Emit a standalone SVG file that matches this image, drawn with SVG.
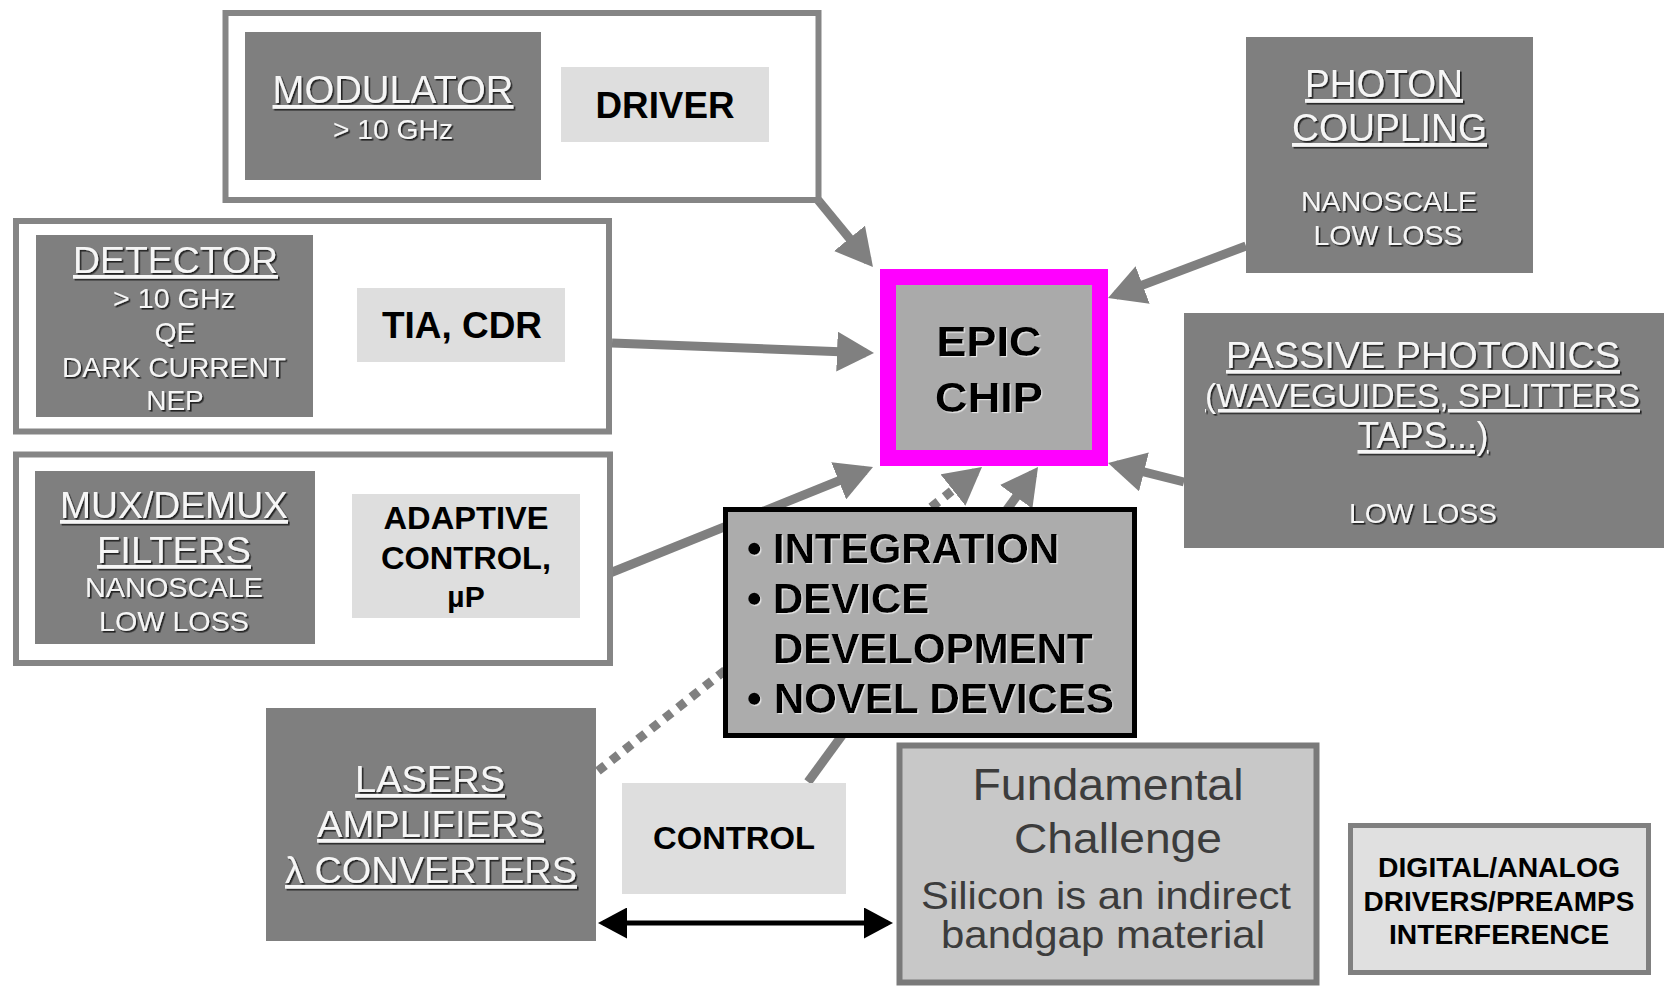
<svg xmlns="http://www.w3.org/2000/svg" width="1667" height="988" viewBox="0 0 1667 988">
<defs>
<style>
.frame{fill:#ffffff;stroke:#858585;stroke-width:6}
.dark{fill:#7f7f7f}
.light{fill:#dedede}
.wt{font-family:"Liberation Sans",Arial,sans-serif;fill:#f6f6f6;text-anchor:middle;filter:url(#sh)}
.ul{text-decoration:underline}
.bt{font-family:"Liberation Sans",Arial,sans-serif;font-weight:bold;fill:#000;text-anchor:middle}
.conn{stroke:#808080;stroke-width:9;fill:none;marker-end:url(#ag)}
</style>
<filter id="sh" x="-10%" y="-20%" width="120%" height="150%">
<feDropShadow dx="1.6" dy="1.6" stdDeviation="0.5" flood-color="#1e1e1e" flood-opacity="0.95"/>
</filter>
<filter id="lsh" x="-10%" y="-20%" width="120%" height="150%">
<feDropShadow dx="1.2" dy="1.2" stdDeviation="0.5" flood-color="#e8e8e8" flood-opacity="0.9"/>
</filter>
<marker id="ag" markerUnits="userSpaceOnUse" markerWidth="37" markerHeight="40" viewBox="0 0 37 40" refX="29" refY="20" orient="auto">
<path d="M0,0 L37,20 L0,40 z" fill="#808080"/>
</marker>
<marker id="ab" markerUnits="userSpaceOnUse" markerWidth="29" markerHeight="31" viewBox="0 0 29 31" refX="24" refY="15.5" orient="auto-start-reverse">
<path d="M0,0 L29,15.5 L0,31 z" fill="#000"/>
</marker>
</defs>
<rect x="0" y="0" width="1667" height="988" fill="#ffffff"/>

<g id="connectors">
<line class="conn" x1="818" y1="200" x2="867.9" y2="260.8"/>
<line class="conn" x1="612" y1="343" x2="866" y2="352.7"/>
<line class="conn" x1="610" y1="573" x2="865.6" y2="470"/>
<line class="conn" x1="598" y1="771" x2="975.7" y2="472" stroke-dasharray="9 8"/>
<line class="conn" x1="808" y1="782" x2="1033.3" y2="473.5"/>
<line class="conn" x1="1246" y1="246" x2="1115.5" y2="295.2"/>
<line class="conn" x1="1184" y1="482" x2="1115.8" y2="464.9"/>
<line x1="603" y1="923" x2="888" y2="923" stroke="#000" stroke-width="5" marker-start="url(#ab)" marker-end="url(#ab)"/>
</g>

<g id="modulator">
<rect class="frame" x="225.5" y="13" width="593" height="187"/>
<rect class="dark" x="245" y="32" width="296" height="148"/>
<text class="wt ul" x="393" y="103" font-size="38" textLength="241" lengthAdjust="spacingAndGlyphs">MODULATOR</text>
<text class="wt" x="393" y="139" font-size="28" textLength="120" lengthAdjust="spacingAndGlyphs">&gt; 10 GHz</text>
<rect class="light" x="561" y="67" width="208" height="75"/>
<text class="bt" x="665" y="118" font-size="36" textLength="139" lengthAdjust="spacingAndGlyphs">DRIVER</text>
</g>

<g id="detector">
<rect class="frame" x="16" y="221" width="593" height="210.5"/>
<rect class="dark" x="36" y="235" width="277" height="182"/>
<text class="wt ul" x="175.5" y="273" font-size="37" textLength="205" lengthAdjust="spacingAndGlyphs">DETECTOR</text>
<text class="wt" x="174" y="308" font-size="28" textLength="122" lengthAdjust="spacingAndGlyphs">&gt; 10 GHz</text>
<text class="wt" x="175" y="342" font-size="28">QE</text>
<text class="wt" x="174" y="377" font-size="28" textLength="224" lengthAdjust="spacingAndGlyphs">DARK CURRENT</text>
<text class="wt" x="175" y="410" font-size="28">NEP</text>
<rect class="light" x="357" y="288" width="208" height="74"/>
<text class="bt" x="462" y="338" font-size="36" textLength="160" lengthAdjust="spacingAndGlyphs">TIA, CDR</text>
</g>

<g id="mux">
<rect class="frame" x="16" y="454.5" width="594" height="208.5"/>
<rect class="dark" x="35" y="471" width="280" height="173"/>
<text class="wt ul" x="174" y="518" font-size="37" textLength="228" lengthAdjust="spacingAndGlyphs">MUX/DEMUX</text>
<text class="wt ul" x="174" y="563" font-size="37" textLength="154" lengthAdjust="spacingAndGlyphs">FILTERS</text>
<text class="wt" x="174" y="597" font-size="28" textLength="178" lengthAdjust="spacingAndGlyphs">NANOSCALE</text>
<text class="wt" x="174" y="631" font-size="28" textLength="150" lengthAdjust="spacingAndGlyphs">LOW LOSS</text>
<rect class="light" x="352" y="494" width="228" height="124"/>
<text class="bt" x="466" y="529" font-size="32" textLength="165" lengthAdjust="spacingAndGlyphs">ADAPTIVE</text>
<text class="bt" x="466" y="569" font-size="32" textLength="170" lengthAdjust="spacingAndGlyphs">CONTROL,</text>
<text class="bt" x="466" y="607" font-size="30" font-weight="normal">µP</text>
</g>

<g id="epic">
<rect x="888" y="277" width="212" height="181" fill="#aaaaaa" stroke="#ff00ff" stroke-width="16"/>
<text class="bt" x="989" y="356" font-size="43" textLength="105" lengthAdjust="spacingAndGlyphs" filter="url(#lsh)">EPIC</text>
<text class="bt" x="989" y="412" font-size="43" textLength="108" lengthAdjust="spacingAndGlyphs" filter="url(#lsh)">CHIP</text>
</g>

<g id="photon">
<rect class="dark" x="1246" y="37" width="287" height="236"/>
<text class="wt ul" x="1384" y="97" font-size="38" textLength="158" lengthAdjust="spacingAndGlyphs">PHOTON</text>
<text class="wt ul" x="1389.5" y="141" font-size="38" textLength="195" lengthAdjust="spacingAndGlyphs">COUPLING</text>
<text class="wt" x="1389" y="211" font-size="28" textLength="176" lengthAdjust="spacingAndGlyphs">NANOSCALE</text>
<text class="wt" x="1388" y="245" font-size="28" textLength="149" lengthAdjust="spacingAndGlyphs">LOW LOSS</text>
</g>

<g id="passive">
<rect class="dark" x="1184" y="313" width="480" height="235"/>
<text class="wt ul" x="1423" y="368" font-size="36" textLength="394" lengthAdjust="spacingAndGlyphs">PASSIVE PHOTONICS</text>
<text class="wt ul" x="1422.5" y="407" font-size="34" textLength="435" lengthAdjust="spacingAndGlyphs">(WAVEGUIDES, SPLITTERS</text>
<text class="wt ul" x="1423" y="448" font-size="36" textLength="131" lengthAdjust="spacingAndGlyphs">TAPS...)</text>
<text class="wt" x="1423" y="523" font-size="28" textLength="148" lengthAdjust="spacingAndGlyphs">LOW LOSS</text>
</g>

<g id="research">
<rect x="725.5" y="509.5" width="409" height="226" fill="#acacac" stroke="#000" stroke-width="5"/>
<g font-family="Liberation Sans, Arial, sans-serif" font-weight="bold" font-size="42" fill="#000" filter="url(#lsh)">
<text y="563"><tspan x="747">•</tspan><tspan x="773">INTEGRATION</tspan></text>
<text y="613"><tspan x="747">•</tspan><tspan x="773">DEVICE</tspan></text>
<text x="773" y="663">DEVELOPMENT</text>
<text y="713"><tspan x="747">•</tspan><tspan x="774">NOVEL DEVICES</tspan></text>
</g>
</g>

<g id="lasers">
<rect class="dark" x="266" y="708" width="330" height="233"/>
<text class="wt ul" x="430" y="792" font-size="37" textLength="150" lengthAdjust="spacingAndGlyphs">LASERS</text>
<text class="wt ul" x="430.5" y="837" font-size="37" textLength="227" lengthAdjust="spacingAndGlyphs">AMPLIFIERS</text>
<text class="wt ul" x="431" y="883" font-size="37" textLength="292" lengthAdjust="spacingAndGlyphs">λ CONVERTERS</text>
</g>

<g id="control">
<rect class="light" x="622" y="783" width="224" height="111"/>
<text class="bt" x="734" y="849" font-size="31" textLength="162" lengthAdjust="spacingAndGlyphs">CONTROL</text>
</g>

<g id="fundamental">
<rect x="899.5" y="745.5" width="417" height="237" fill="#c8c8c8" stroke="#7a7a7a" stroke-width="6"/>
<g font-family="Liberation Sans, Arial, sans-serif" fill="#3c3c3c" text-anchor="middle">
<text x="1108" y="800" font-size="45" textLength="271" lengthAdjust="spacingAndGlyphs">Fundamental</text>
<text x="1118" y="853" font-size="43" textLength="208" lengthAdjust="spacingAndGlyphs">Challenge</text>
<text x="1106" y="909" font-size="39" textLength="370" lengthAdjust="spacingAndGlyphs">Silicon is an indirect</text>
<text x="1103" y="948" font-size="39" textLength="324" lengthAdjust="spacingAndGlyphs">bandgap material</text>
</g>
</g>

<g id="digital">
<rect x="1350.5" y="825.5" width="298" height="147" fill="#e0e0e0" stroke="#808080" stroke-width="5"/>
<text class="bt" x="1499" y="877" font-size="28" textLength="242" lengthAdjust="spacingAndGlyphs">DIGITAL/ANALOG</text>
<text class="bt" x="1499" y="911" font-size="28" textLength="271" lengthAdjust="spacingAndGlyphs">DRIVERS/PREAMPS</text>
<text class="bt" x="1499" y="944" font-size="28" textLength="220" lengthAdjust="spacingAndGlyphs">INTERFERENCE</text>
</g>
</svg>
